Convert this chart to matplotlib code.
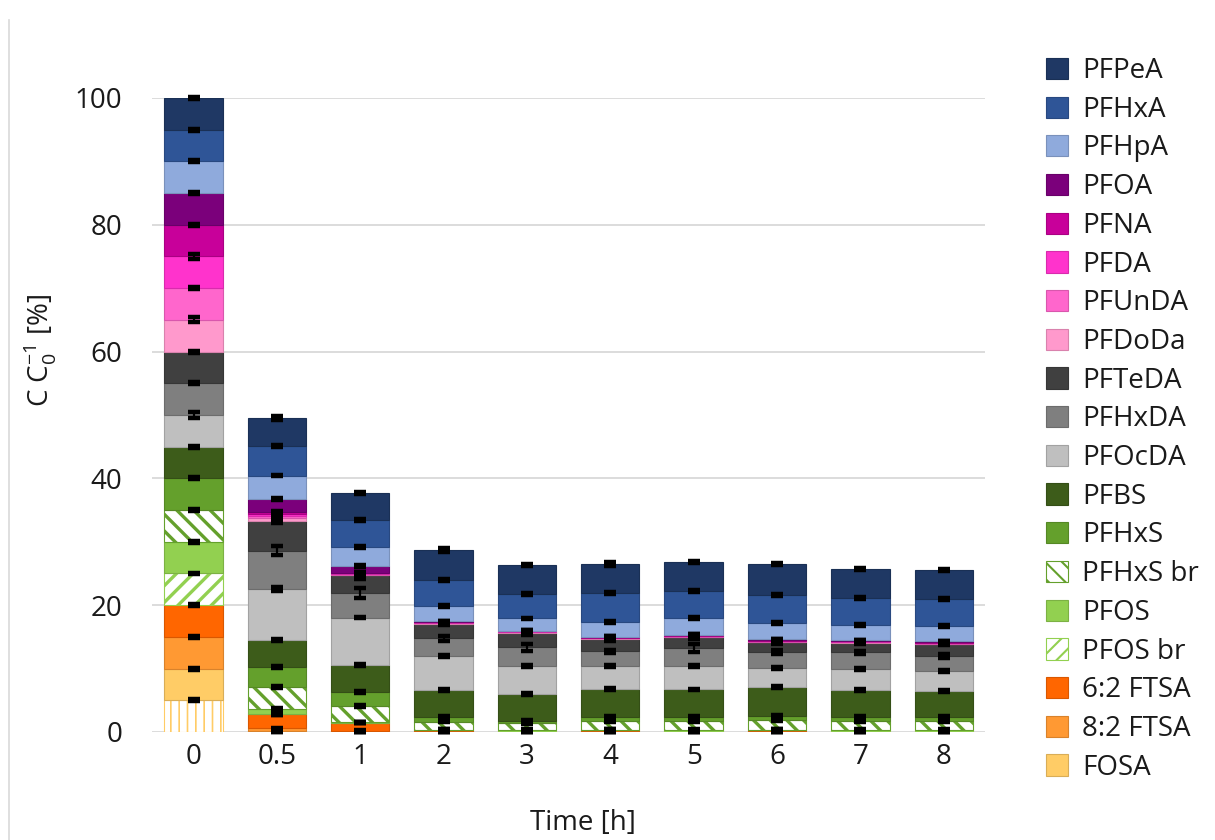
import numpy as np
import matplotlib
matplotlib.use('Agg')
import matplotlib.pyplot as plt
from matplotlib.colors import to_rgb
from matplotlib.lines import Line2D

plt.rcParams['font.family'] = ['Open Sans', 'DejaVu Sans']

times = ['0', '0.5', '1', '2', '3', '4', '5', '6', '7', '8']

# stacked shares in % of C0, listed from the bottom of each bar upwards
extra = [5, 0.05, 0.05, 0.05, 0.05, 0.05, 0.05, 0.05, 0.05, 0.05]
fosa = [5, 0.1, 0.05, 0.05, 0.05, 0.05, 0.05, 0.05, 0.05, 0.05]
ftsa82 = [5, 0.45, 0.05, 0.05, 0.05, 0.05, 0.05, 0.05, 0.05, 0.05]
ftsa62 = [5, 2.25, 1.3, 0.1, 0.05, 0.1, 0.05, 0.1, 0.05, 0.05]
pfos_br = [5, 0.0, 0.0, 0.05, 0.05, 0.05, 0.05, 0.05, 0.05, 0.05]
pfos = [5, 0.75, 0.05, 0.05, 0.05, 0.05, 0.05, 0.05, 0.05, 0.05]
pfhxs_br = [5, 3.55, 2.6, 1.3, 1.15, 1.45, 1.5, 1.5, 1.5, 1.5]
pfhxs = [5, 3.15, 2.2, 0.75, 0.3, 0.5, 0.6, 0.65, 0.5, 0.5]
pfbs = [5, 4.2, 4.2, 4.15, 4.2, 4.5, 4.3, 4.6, 4.3, 4.15]
pfocda = [5, 8.0, 7.55, 5.4, 4.5, 3.55, 3.75, 3.0, 3.35, 3.2]
pfhxda = [5, 6.1, 3.9, 2.85, 2.9, 2.35, 2.75, 2.5, 2.6, 2.35]
pfteda = [5, 4.7, 2.75, 2.3, 2.3, 2.0, 1.8, 1.6, 1.55, 1.9]
pfdoda = [5, 0.4, 0.1, 0.05, 0.05, 0.05, 0.05, 0.05, 0.05, 0.05]
pfunda = [5, 0.4, 0.1, 0.05, 0.05, 0.05, 0.05, 0.05, 0.05, 0.05]
pfda = [5, 0.3, 0.1, 0.1, 0.1, 0.1, 0.1, 0.1, 0.1, 0.1]
pfna = [5, 0.35, 0.15, 0.1, 0.1, 0.1, 0.1, 0.1, 0.1, 0.1]
pfoa = [5, 1.95, 1.0, 0.05, 0.05, 0.05, 0.05, 0.1, 0.05, 0.1]
pfhpa = [5, 3.75, 3.0, 2.4, 1.9, 2.3, 2.65, 2.55, 2.4, 2.35]
pfhxa = [5, 4.6, 4.3, 4.1, 3.9, 4.5, 4.3, 4.45, 4.3, 4.3]
pfpea = [5, 4.5, 4.3, 4.7, 4.6, 4.6, 4.45, 4.9, 4.6, 4.55]

# standard deviations, drawn at the top of each segment
extra_err = [0.15, 0.1, 0.1, 0.1, 0.1, 0.1, 0.1, 0.1, 0.1, 0.1]
fosa_err = [0.15, 0.1, 0.1, 0.1, 0.1, 0.1, 0.1, 0.1, 0.1, 0.1]
ftsa82_err = [0.15, 0.1, 0.1, 0.1, 0.1, 0.1, 0.1, 0.1, 0.1, 0.1]
ftsa62_err = [0.15, 0.15, 0.1, 0.1, 0.1, 0.1, 0.1, 0.1, 0.1, 0.1]
pfos_br_err = [0.15, 0.1, 0.1, 0.1, 0.1, 0.1, 0.1, 0.1, 0.1, 0.1]
pfos_err = [0.15, 0.15, 0.1, 0.1, 0.1, 0.1, 0.1, 0.1, 0.1, 0.1]
pfhxs_br_err = [0.15, 0.15, 0.15, 0.15, 0.15, 0.15, 0.15, 0.15, 0.15, 0.15]
pfhxs_err = [0.15, 0.15, 0.15, 0.15, 0.15, 0.15, 0.15, 0.15, 0.15, 0.15]
pfbs_err = [0.15, 0.15, 0.15, 0.15, 0.15, 0.15, 0.15, 0.15, 0.15, 0.15]
pfocda_err = [0.5, 0.3, 0.15, 0.15, 0.15, 0.15, 0.15, 0.15, 0.15, 0.15]
pfhxda_err = [0.15, 0.7, 0.8, 0.4, 0.5, 0.3, 0.6, 0.3, 0.25, 0.3]
pfteda_err = [0.15, 0.4, 0.5, 0.15, 0.3, 0.3, 0.3, 0.3, 0.25, 0.15]
pfdoda_err = [0.4, 0.3, 0.15, 0.15, 0.15, 0.15, 0.15, 0.15, 0.15, 0.15]
pfunda_err = [0.15, 0.15, 0.1, 0.1, 0.1, 0.1, 0.1, 0.1, 0.1, 0.1]
pfda_err = [0.4, 0.15, 0.1, 0.1, 0.1, 0.1, 0.1, 0.1, 0.1, 0.1]
pfna_err = [0.15, 0.15, 0.1, 0.1, 0.1, 0.1, 0.1, 0.1, 0.1, 0.1]
pfoa_err = [0.15, 0.15, 0.15, 0.1, 0.1, 0.1, 0.1, 0.1, 0.1, 0.1]
pfhpa_err = [0.15, 0.15, 0.15, 0.15, 0.15, 0.15, 0.15, 0.15, 0.15, 0.15]
pfhxa_err = [0.15, 0.15, 0.15, 0.15, 0.15, 0.15, 0.15, 0.15, 0.15, 0.15]
pfpea_err = [0.15, 0.35, 0.15, 0.3, 0.15, 0.3, 0.15, 0.2, 0.15, 0.15]

# (label, values, errors, face colour, hatch colour, hatch)
series = [
    ('_extra', extra, extra_err, 'white', '#ffcc66', '||'),
    ('FOSA', fosa, fosa_err, '#ffcc66', None, None),
    ('8:2 FTSA', ftsa82, ftsa82_err, '#ff9933', None, None),
    ('6:2 FTSA', ftsa62, ftsa62_err, '#ff6600', None, None),
    ('PFOS br', pfos_br, pfos_br_err, 'white', '#92d050', '//'),
    ('PFOS', pfos, pfos_err, '#92d050', None, None),
    ('PFHxS br', pfhxs_br, pfhxs_br_err, 'white', '#64a02c', '\\\\'),
    ('PFHxS', pfhxs, pfhxs_err, '#64a02c', None, None),
    ('PFBS', pfbs, pfbs_err, '#3d5c1a', None, None),
    ('PFOcDA', pfocda, pfocda_err, '#bfbfbf', None, None),
    ('PFHxDA', pfhxda, pfhxda_err, '#7f7f7f', None, None),
    ('PFTeDA', pfteda, pfteda_err, '#404040', None, None),
    ('PFDoDa', pfdoda, pfdoda_err, '#ff99cc', None, None),
    ('PFUnDA', pfunda, pfunda_err, '#ff66cc', None, None),
    ('PFDA', pfda, pfda_err, '#ff33cc', None, None),
    ('PFNA', pfna, pfna_err, '#c8009a', None, None),
    ('PFOA', pfoa, pfoa_err, '#7b007b', None, None),
    ('PFHpA', pfhpa, pfhpa_err, '#8faadc', None, None),
    ('PFHxA', pfhxa, pfhxa_err, '#2f5597', None, None),
    ('PFPeA', pfpea, pfpea_err, '#1f3864', None, None),
]


def darker(c, f=0.85):
    r, g, b = to_rgb(c)
    return (r * f, g * f, b * f)


fig = plt.figure(figsize=(12.15, 8.4), dpi=100)
ax = fig.add_axes([0.125, 0.1286, 0.686, 0.7548])

x = np.arange(len(times))
bottom = np.zeros(len(times))
handles = []
for label, vals, err, face, hcol, hatch in series:
    vals = np.array(vals, dtype=float)
    edge = hcol if hatch else darker(face)
    hlw = 1.2 if hatch == '||' else 2.4
    with plt.rc_context({'hatch.linewidth': hlw}):
        bars = ax.bar(x, vals, 0.7, bottom=bottom, color=face, edgecolor=edge,
                      linewidth=0.8, hatch=hatch, label=label, zorder=2)
    for p in bars:
        if hasattr(p, 'set_hatch_linewidth'):
            p.set_hatch_linewidth(hlw)
    ax.errorbar(x, bottom + vals, yerr=err, fmt='none', ecolor='black',
                elinewidth=1.6, capsize=4.5, capthick=3.2, zorder=4, clip_on=False)
    bottom = bottom + vals
    if not label.startswith('_'):
        handles.append(bars)

ax.set_xlim(-0.5, len(times) - 0.5)
ax.set_ylim(0, 100)
ax.set_yticks([0, 20, 40, 60, 80, 100])
ax.set_xticks(x)
ax.set_xticklabels(times)
ax.yaxis.grid(True, color='#d9d9d9', linewidth=1.3, zorder=0)
ax.set_axisbelow(True)
for s in ax.spines.values():
    s.set_visible(False)
ax.tick_params(axis='both', length=0, labelsize=20, colors='#1a1a1a')
ax.tick_params(axis='y', pad=21.5)
ax.tick_params(axis='x', pad=8)

fig.text(40 / 1215, 1 - 350 / 840, r'C C$_\mathregular{0}^\mathregular{-1}$ [%]',
         rotation=90, ha='center', va='center', fontsize=20, color='#1a1a1a')
fig.text(583 / 1215, 1 - 823 / 840, 'Time [h]', ha='center', va='center',
         fontsize=20, color='#1a1a1a')

# thin chart border on the left
fig.add_artist(Line2D([9 / 1215, 9 / 1215], [0, 1 - 20 / 840], color='#d9d9d9', linewidth=1.2))

with plt.rc_context({'hatch.linewidth': 1.5}):
    leg = fig.legend(handles[::-1], [h.get_label() for h in handles[::-1]],
                     loc='upper left', bbox_to_anchor=(1035 / 1215, 1 - 46 / 840),
                     frameon=False, fontsize=20, handlelength=0.8, handleheight=0.8,
                     handletextpad=0.5, labelspacing=0.385, borderaxespad=0)
for t in leg.get_texts():
    t.set_color('#1a1a1a')

fig.savefig('out.png', dpi=100)
